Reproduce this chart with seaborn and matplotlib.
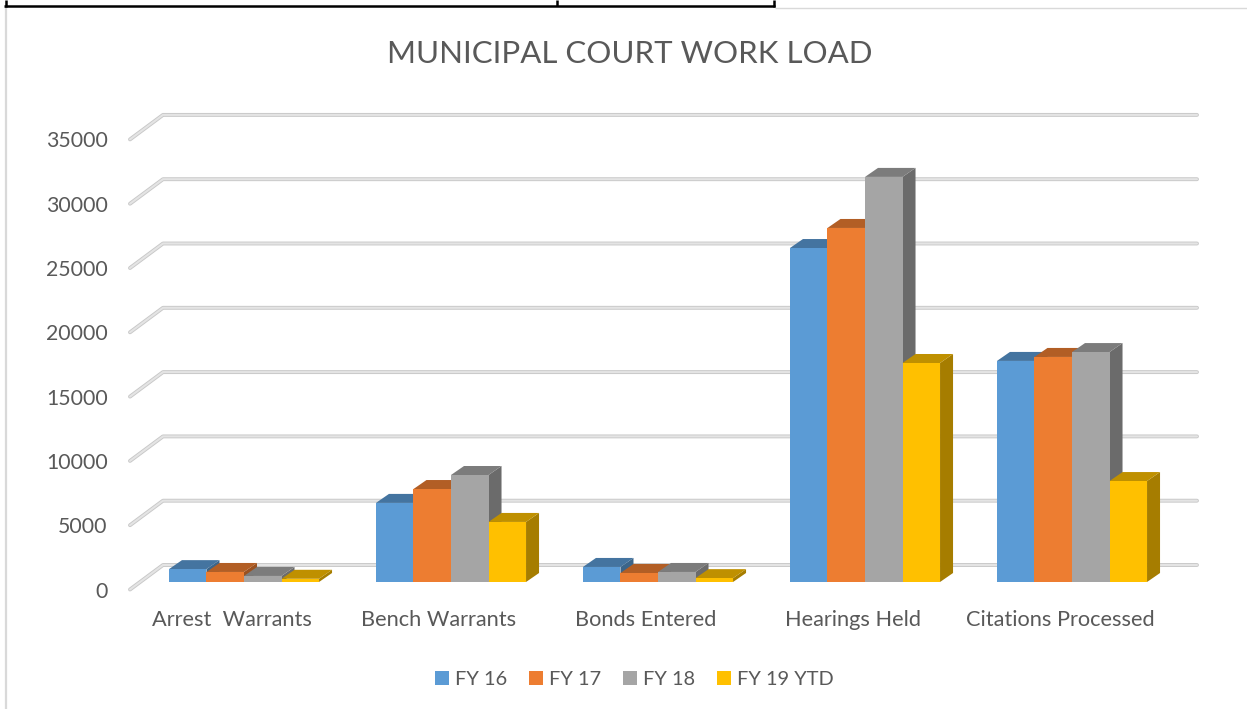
import pandas as pd
import matplotlib
matplotlib.use("Agg")
import matplotlib.pyplot as plt
import matplotlib.colors as mcolors
from matplotlib.lines import Line2D
from matplotlib.patches import Polygon
from matplotlib.transforms import Affine2D, IdentityTransform
import seaborn as sns

categories = ["Arrest  Warrants", "Bench Warrants", "Bonds Entered", "Hearings Held", "Citations Processed"]
fy_16 = [1000, 6150, 1170, 25970, 17190]
fy_17 = [780, 7230, 700, 27530, 17500]
fy_18 = [470, 8320, 780, 31500, 17880]
fy_19_ytd = [250, 4670, 300, 17030, 7850]
series_names = ["FY 16", "FY 17", "FY 18", "FY 19 YTD"]
series_colors = ["#5b9bd5", "#ed7d31", "#a5a5a5", "#ffc000"]
y_ticks = [0, 5000, 10000, 15000, 20000, 25000, 30000, 35000]

W, H = 1247, 709
TEXT = "#595959"

# depth of the fake 3D box, in pixels
BAR_DX, BAR_DY = 13, 9
BACK_DX, BACK_DY = 33, 17
FRONT_DY = -7.5


def shade(color, factor):
    r, g, b = mcolors.to_rgb(color)
    return (r * factor, g * factor, b * factor)


def draw_depth(ax):
    """Add top and side faces to the bars seaborn drew."""
    tr = IdentityTransform()
    for container, color in zip(ax.containers, series_colors):
        for bar in container:
            (x0, y0), (x1, y1) = ax.transData.transform(
                [(bar.get_x(), 0), (bar.get_x() + bar.get_width(), bar.get_height())]
            )
            z = 3 + (x0 / W) * 10
            top = [(x0, y1), (x1, y1), (x1 + BAR_DX, y1 + BAR_DY), (x0 + BAR_DX, y1 + BAR_DY)]
            side = [(x1, y0), (x1 + BAR_DX, y0 + BAR_DY), (x1 + BAR_DX, y1 + BAR_DY), (x1, y1)]
            ax.add_patch(Polygon(side, transform=tr, facecolor=shade(color, 0.65), edgecolor="none", zorder=z, clip_on=False))
            ax.add_patch(Polygon(top, transform=tr, facecolor=shade(color, 0.75), edgecolor="none", zorder=z, clip_on=False))
            bar.set_zorder(z + 0.001)


def draw_grid(ax):
    """Gridlines run along the back wall, with a slanted piece to the front."""
    tr = IdentityTransform()
    x_left, x_right = ax.get_window_extent().x0, ax.get_window_extent().x1
    for tick in y_ticks:
        y = ax.transData.transform((0, tick))[1]
        xs = [x_left, x_left + BACK_DX, x_right]
        ys = [y + FRONT_DY, y + BACK_DY, y + BACK_DY]
        ax.add_line(Line2D(xs, ys, transform=tr, color="#c8c8c8", lw=2.8, zorder=1, clip_on=False, solid_capstyle="round"))
        ax.add_line(Line2D(xs, ys, transform=tr, color="#e4e4e4", lw=1.5, zorder=1.1, clip_on=False, solid_capstyle="round"))


def draw_page_lines(fig):
    """Table border and page edge left over from the screenshot."""
    def px_line(xs, ys, color, lw):
        fig.add_artist(Line2D([x / W for x in xs], [1 - y / H for y in ys], color=color, lw=lw, solid_capstyle="butt"))

    px_line([6, 6], [7, 709], "#d9d9d9", 1.6)
    px_line([775, 1247], [7.5, 7.5], "#d9d9d9", 1.0)
    px_line([4, 775], [6, 6], "black", 1.8)
    px_line([6, 6], [0, 7], "black", 1.8)
    px_line([557, 557], [0, 6], "black", 1.8)
    px_line([774, 774], [0, 7], "black", 1.8)


def main():
    sns.set_theme(style="white")
    plt.rcParams["font.family"] = ["Lato", "DejaVu Sans"]

    frames = []
    for name, values in zip(series_names, [fy_16, fy_17, fy_18, fy_19_ytd]):
        frames.append(pd.DataFrame({"category": categories, "series": name, "count": values}))
    df = pd.concat(frames)

    fig = plt.figure(figsize=(W / 100, H / 100), dpi=100)
    # axes bottom sits on the bar base, left on the front edge of the floor
    ax = fig.add_axes([130 / W, 1 - 582 / H, (1197 - 130) / W, (582 - 115) / H])

    sns.barplot(
        data=df, x="category", y="count", hue="series", order=categories,
        palette=series_colors, saturation=1, width=0.725, gap=0,
        edgecolor="none", linewidth=0, ax=ax,
    )

    ax.set_xlim(-114 / 207, (1197 - 244) / 207)
    ax.set_ylim(0, (582 - 115) * 5000 / 64.3)
    ax.set_xlabel("")
    ax.set_ylabel("")
    ax.set_yticks(y_ticks)
    ax.set_yticklabels([str(t) for t in y_ticks])
    sns.despine(ax=ax, left=True, bottom=True)
    ax.patch.set_alpha(0)

    ax.tick_params(axis="x", length=0, pad=20.5, labelsize=15.7, labelcolor=TEXT)
    ax.tick_params(axis="y", length=0, pad=16, labelsize=15.3, labelcolor=TEXT)
    for label in ax.get_xticklabels():
        label.set_transform(label.get_transform() + Affine2D().translate(-12, 0))
    for label in ax.get_yticklabels():
        label.set_transform(label.get_transform() + Affine2D().translate(0, FRONT_DY))

    draw_grid(ax)
    draw_depth(ax)
    draw_page_lines(fig)

    fig.text(630 / W, 1 - 54 / H, "MUNICIPAL COURT WORK LOAD", ha="center", va="center", fontsize=22.5, color=TEXT)

    sns.move_legend(
        ax, "center", bbox_to_anchor=(634.5 / W, 1 - 679.5 / H), bbox_transform=fig.transFigure,
        ncol=4, title=None, frameon=False, fontsize=14.4, labelcolor=TEXT,
        handlelength=0.7, handleheight=0.7, handletextpad=0.3, columnspacing=1.1,
    )

    fig.savefig("out.png", dpi=100, facecolor="white")


if __name__ == "__main__":
    main()
